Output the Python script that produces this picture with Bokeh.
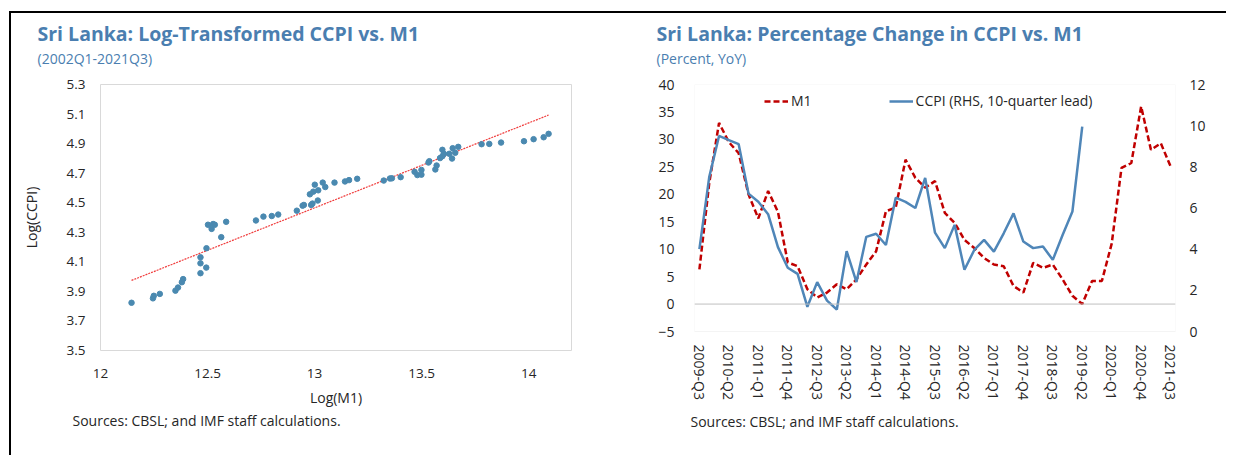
import numpy as np
from bokeh.plotting import figure
from bokeh.models import (Range1d, LinearAxis, FixedTicker, NumeralTickFormatter,
                          Title, Span, Legend, LegendItem, BoxAnnotation)
from bokeh.layouts import row
from bokeh.embed import file_html
from bokeh.resources import INLINE

# ---------------- Left chart data: Log(M1) vs Log(CCPI) ----------------
log_m1 = [12.145, 12.245, 12.249, 12.277, 12.350, 12.362, 12.380, 12.386, 12.467, 12.467,
          12.467, 12.494, 12.495, 12.502, 12.519, 12.526, 12.534, 12.564, 12.587,
          12.726, 12.761, 12.800, 12.830, 12.917, 12.944, 12.950, 12.978, 12.984, 12.990,
          12.994, 13.001, 13.015, 13.017, 13.038, 13.050, 13.093, 13.142, 13.161, 13.199,
          13.323, 13.352, 13.361, 13.402, 13.467, 13.480, 13.499, 13.499, 13.532, 13.536,
          13.564, 13.570, 13.586, 13.597, 13.597, 13.604, 13.629, 13.642, 13.645, 13.657,
          13.671, 13.780, 13.816, 13.871, 13.978, 14.023, 14.070, 14.093]
log_ccpi = [3.823, 3.853, 3.870, 3.883, 3.905, 3.926, 3.962, 3.983, 4.023, 4.090,
            4.131, 4.061, 4.192, 4.351, 4.323, 4.356, 4.351, 4.267, 4.371,
            4.380, 4.406, 4.410, 4.420, 4.446, 4.480, 4.485, 4.557, 4.485, 4.494,
            4.575, 4.622, 4.515, 4.584, 4.636, 4.606, 4.636, 4.644, 4.653, 4.662,
            4.650, 4.664, 4.665, 4.673, 4.709, 4.687, 4.722, 4.690, 4.772, 4.781,
            4.725, 4.752, 4.802, 4.858, 4.815, 4.831, 4.831, 4.799, 4.869, 4.838,
            4.878, 4.896, 4.898, 4.907, 4.916, 4.930, 4.943, 4.966]
left_x_ticks = [12, 12.5, 13, 13.5, 14]
left_y_ticks = [3.5, 3.7, 3.9, 4.1, 4.3, 4.5, 4.7, 4.9, 5.1, 5.3]

# ---------------- Right chart data: YoY % change ----------------
m1_growth = [6.3, 22.0, 33.0, 29.5, 27.5, 20.0, 15.6, 20.6, 16.8, 7.6,
             6.9, 2.7, 1.2, 2.1, 3.6, 2.7, 4.5, 7.2, 9.6, 16.9,
             17.6, 26.3, 23.0, 21.2, 22.4, 16.6, 14.8, 11.7, 10.2, 8.4,
             7.2, 6.9, 3.3, 2.1, 7.5, 6.6, 7.2, 4.5, 1.5, 0.0,
             4.2, 4.2, 11.0, 24.8, 25.7, 36.0, 28.1, 29.3, 25.1]
ccpi_growth = [4.0, 7.5, 9.5, 9.3, 9.1, 6.7, 6.3, 5.7, 4.1, 3.1,
               2.8, 1.2, 2.4, 1.5, 1.07, 3.9, 2.4, 4.6, 4.75, 4.2,
               6.5, 6.3, 6.0, 7.46, 4.8, 4.05, 5.18, 3.0, 3.96, 4.45,
               3.88, 4.77, 5.74, 4.37, 4.05, 4.13, 3.48, 4.69, 5.83, 9.95]
quarter_tick_labels = ["2009-Q3", "2010-Q2", "2011-Q1", "2011-Q4", "2012-Q3", "2013-Q2",
                       "2014-Q1", "2014-Q4", "2015-Q3", "2016-Q2", "2017-Q1", "2017-Q4",
                       "2018-Q3", "2019-Q2", "2020-Q1", "2020-Q4", "2021-Q3"]
quarter_tick_pos = [0, 3, 6, 9, 12, 15, 18, 21, 24, 27, 30, 33, 36, 39, 42, 45, 48]
left_axis_ticks = [-5, 0, 5, 10, 15, 20, 25, 30, 35, 40]
right_axis_ticks = [0, 2, 4, 6, 8, 10, 12]

FONT = "Open Sans"
TITLE_BLUE = "#4A7EB0"
TXT = "#262626"
FRAME = "#D9D9D9"


def style_axis(ax, size="13.5px"):
    ax.axis_line_color = None
    ax.major_tick_line_color = None
    ax.minor_tick_line_color = None
    ax.major_tick_out = 0
    ax.major_tick_in = 0
    ax.minor_tick_out = 0
    ax.major_label_text_font = FONT
    ax.major_label_text_font_size = size
    ax.major_label_text_color = TXT
    ax.axis_label_text_font = FONT
    ax.axis_label_text_font_size = "14px"
    ax.axis_label_text_font_style = "normal"
    ax.axis_label_text_color = TXT


def add_headers(p, offset, title, subtitle, source, src_offset, src_standoff):
    # spacer closest to the frame, then subtitle, then the main title
    p.add_layout(Title(text=" ", text_font_size="12px", standoff=1), "above")
    p.add_layout(Title(text=subtitle, align="left", offset=offset, text_font=FONT,
                       text_font_size="14px", text_font_style="normal",
                       text_color=TITLE_BLUE, standoff=0), "above")
    p.add_layout(Title(text=title, align="left", offset=offset, text_font=FONT,
                       text_font_size="19.5px", text_font_style="bold",
                       text_color=TITLE_BLUE, standoff=0), "above")
    p.add_layout(Title(text=source, align="left", offset=src_offset, text_font=FONT,
                       text_font_size="14px", text_font_style="normal",
                       vertical_align="top", text_color=TXT, standoff=src_standoff), "below")


H = 444
# ================= Left figure =================
W1 = 629
p1 = figure(width=W1, height=H, x_range=Range1d(12, 14.2), y_range=Range1d(3.5, 5.3),
            output_backend="svg", toolbar_location=None, title=None,
            min_border_left=89, min_border_right=69, min_border_top=71, min_border_bottom=107)
p1.background_fill_color = "white"
p1.border_fill_color = "white"
p1.outline_line_color = FRAME
p1.grid.visible = False
p1.xaxis.ticker = FixedTicker(ticks=left_x_ticks)
p1.yaxis.ticker = FixedTicker(ticks=left_y_ticks)
p1.xaxis.formatter = NumeralTickFormatter(format="0.[0]")
p1.yaxis.formatter = NumeralTickFormatter(format="0.0")
for ax in (p1.xaxis[0], p1.yaxis[0]):
    style_axis(ax)
p1.xaxis.axis_label = "Log(M1)"
p1.yaxis.axis_label = "Log(CCPI)"
p1.xaxis.major_label_standoff = 18
p1.xaxis.axis_label_standoff = 7
p1.yaxis.major_label_standoff = 15
p1.yaxis.axis_label_standoff = 23

coef = np.polyfit(log_m1, log_ccpi, 1)
trend_x = [min(log_m1), max(log_m1)]
trend_y = list(np.polyval(coef, trend_x))
p1.line(trend_x, trend_y, line_color="#F03C3C", line_width=1.2, line_dash="2 1")
p1.scatter(log_m1, log_ccpi, size=5.5, fill_color="#4A89B0", line_color="#4A89B0")

add_headers(p1, -63, "Sri Lanka: Log-Transformed CCPI vs. M1", "(2002Q1-2021Q3)",
            "Sources: CBSL; and IMF staff calculations.", -28, 2)

# ================= Right figure =================
# The frame shares its top/bottom borders with the left chart; the y ranges are
# extended below so that the boxed plot area (-5..40) ends higher up.
W2 = 588
p2 = figure(width=W2, height=H, x_range=Range1d(-0.5, 48.5), y_range=Range1d(-8.46, 40),
            output_backend="svg", toolbar_location=None, title=None,
            min_border_left=54, min_border_right=53, min_border_top=71, min_border_bottom=107)
p2.background_fill_color = "white"
p2.border_fill_color = "white"
p2.outline_line_color = None
p2.grid.visible = False
p2.extra_y_ranges = {"rhs": Range1d(-0.923, 12)}
rax = LinearAxis(y_range_name="rhs")
p2.add_layout(rax, "right")
p2.xaxis.ticker = FixedTicker(ticks=quarter_tick_pos)
p2.xaxis.major_label_overrides = {pos: lab for pos, lab in zip(quarter_tick_pos, quarter_tick_labels)}
p2.xaxis.major_label_orientation = "vertical"
p2.yaxis[0].ticker = FixedTicker(ticks=left_axis_ticks)
rax.ticker = FixedTicker(ticks=right_axis_ticks)
for ax in (p2.xaxis[0], p2.yaxis[0], rax):
    style_axis(ax, "14px")
p2.xaxis.major_label_standoff = -6
p2.yaxis[0].major_label_standoff = 20
rax.major_label_standoff = 14

p2.add_layout(BoxAnnotation(left=-0.5, right=48.5, bottom=-5, top=40,
                            fill_color=None, fill_alpha=0, line_color=FRAME, line_width=1))
p2.add_layout(Span(location=0, dimension="width", line_color="#BFBFBF", line_width=1))

quarters_m1 = list(range(len(m1_growth)))
quarters_ccpi = list(range(len(ccpi_growth)))
r_m1 = p2.line(quarters_m1, m1_growth, line_color="#C00000", line_width=2.5, line_dash="6 3")
r_cc = p2.line(quarters_ccpi, ccpi_growth, line_color="#4F86B8", line_width=2.5,
               y_range_name="rhs")

legend = Legend(items=[LegendItem(label="M1", renderers=[r_m1]),
                       LegendItem(label="CCPI (RHS, 10-quarter lead)", renderers=[r_cc])],
                location=(70, 240), orientation="horizontal", spacing=77,
                glyph_width=24, glyph_height=16, label_height=16, label_standoff=3,
                padding=0, margin=0, border_line_color=None, background_fill_alpha=0,
                label_text_font=FONT, label_text_font_size="14px", label_text_color=TXT)
p2.add_layout(legend)

add_headers(p2, -38, "Sri Lanka: Percentage Change in CCPI vs. M1", "(Percent, YoY)",
            "Sources: CBSL; and IMF staff calculations.", -4, 18)

layout = row(p1, p2, styles={"transform": "translate(11px, 13px)",
                             "box-shadow": "-2px -2px 0 0 #000000"})

open("out.html", "w").write(file_html(layout, INLINE))
